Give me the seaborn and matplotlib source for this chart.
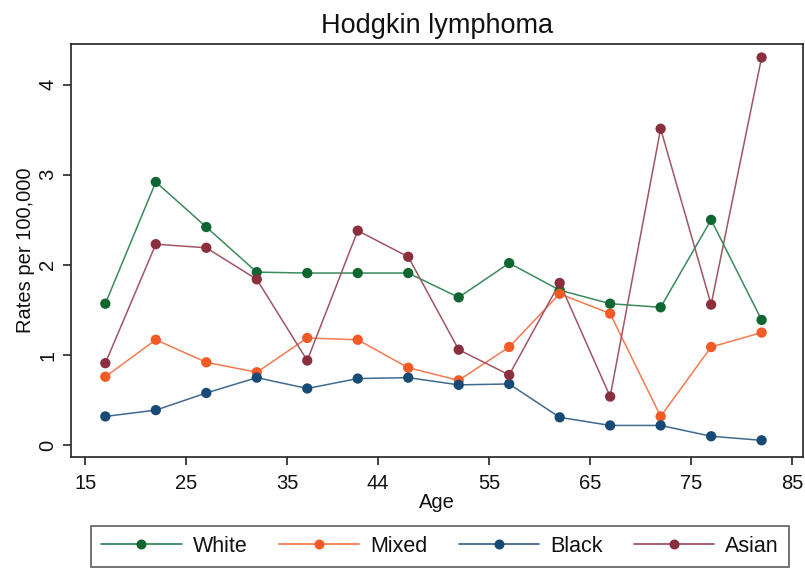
import numpy as np
import pandas as pd
import matplotlib
matplotlib.use("Agg")
import matplotlib.pyplot as plt
from matplotlib.lines import Line2D
import seaborn as sns

ages = [17, 22, 27, 32, 37, 42, 47, 52, 57, 62, 67, 72, 77, 82]
white = [1.57, 2.92, 2.42, 1.92, 1.91, 1.91, 1.91, 1.64, 2.02, 1.72, 1.57, 1.53, 2.50, 1.39]
mixed = [0.76, 1.17, 0.92, 0.81, 1.19, 1.17, 0.86, 0.72, 1.09, 1.68, 1.46, 0.32, 1.09, 1.25]
black = [0.32, 0.39, 0.58, 0.75, 0.63, 0.74, 0.75, 0.67, 0.68, 0.31, 0.22, 0.22, 0.10, 0.055]
asian = [0.91, 2.23, 2.19, 1.84, 0.94, 2.38, 2.09, 1.06, 0.78, 1.80, 0.54, 3.51, 1.56, 4.30]
groups = ["White", "Mixed", "Black", "Asian"]
xticks = [15, 25, 35, 44, 55, 65, 75, 85]
yticks = [0, 1, 2, 3, 4]

marker_colors = {"White": "#0f6630", "Mixed": "#f25a26", "Black": "#174a74", "Asian": "#8a2f3d"}
line_colors = {"White": "#3a8a5c", "Mixed": "#f57a50", "Black": "#3f6a90", "Asian": "#a05562"}

df = pd.DataFrame({
    "Age": ages * 4,
    "Rate": white + mixed + black + asian,
    "Group": sum([[g] * len(ages) for g in groups], []),
})

sns.set_style("white")
plt.rcParams["font.family"] = ["Liberation Sans", "DejaVu Sans"]
plt.rcParams["text.color"] = "#111111"
plt.rcParams["axes.labelcolor"] = "#111111"
plt.rcParams["xtick.color"] = "#111111"
plt.rcParams["ytick.color"] = "#111111"

fig = plt.figure(figsize=(8.05, 5.68), dpi=100)
ax = fig.add_axes([71 / 805, 1 - 457 / 568, (803 - 71) / 805, (457 - 44) / 568])

sns.lineplot(data=df, x="Age", y="Rate", hue="Group", palette=line_colors,
             hue_order=groups, linewidth=1.1, legend=False, ax=ax)
sns.scatterplot(data=df, x="Age", y="Rate", hue="Group", palette=marker_colors,
                hue_order=groups, s=55, linewidth=0, legend=False, ax=ax, zorder=3)

ax.set_xlim(13.6, 86.1)
ax.set_ylim(-0.13, 4.45)
ax.set_xticks(xticks)
ax.set_xticklabels([str(t) for t in xticks], fontsize=14.5)
ax.set_yticks(yticks)
ax.set_yticklabels([str(t) for t in yticks], fontsize=14.5, rotation=90, va="center")
ax.tick_params(axis="both", direction="out", length=6, width=1.2, color="#222222", left=True, bottom=True)
ax.tick_params(axis="x", pad=6)
ax.tick_params(axis="y", pad=4)
for s in ax.spines.values():
    s.set_color("#222222")
    s.set_linewidth(1.2)

ax.set_xlabel("Age", fontsize=14.5, labelpad=0)
ax.set_ylabel("Rates per 100,000", fontsize=14.5, labelpad=2)
ax.set_title("Hodgkin lymphoma", fontsize=19.5, pad=8)

handles = [Line2D([0], [0], color=line_colors[g], lw=1.3, marker="o", markersize=7.2,
                  markerfacecolor=marker_colors[g], markeredgewidth=0) for g in groups]
leg = fig.legend(handles, groups, loc="center", ncol=4, bbox_to_anchor=(440 / 805, 1 - 546.5 / 568),
                 frameon=True, fancybox=False, edgecolor="#333333", fontsize=15.5,
                 handlelength=3.75, columnspacing=1.45, handletextpad=0.5, borderpad=0.45)
leg.get_frame().set_linewidth(1.2)

fig.savefig("out.png", dpi=100)
